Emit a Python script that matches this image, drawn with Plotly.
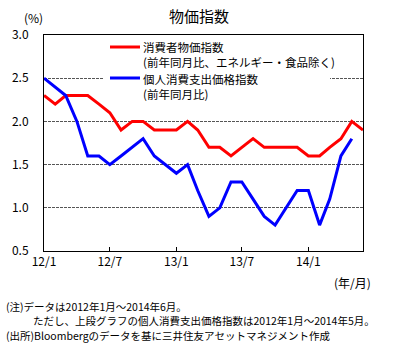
import pandas as pd
import plotly.graph_objects as go

# ---- data ----
months = pd.date_range("2012-01-01", "2014-06-01", freq="MS")
core_cpi = [2.3, 2.2, 2.3, 2.3, 2.3, 2.2, 2.1, 1.9, 2.0, 2.0,
            1.9, 1.9, 1.9, 2.0, 1.9, 1.7, 1.7, 1.6, 1.7, 1.8,
            1.7, 1.7, 1.7, 1.7, 1.6, 1.6, 1.7, 1.8, 2.0, 1.9]
pce = [2.5, 2.4, 2.3, 2.0, 1.6, 1.6, 1.5, 1.6, 1.7, 1.8,
       1.6, 1.5, 1.4, 1.5, 1.2, 0.9, 1.0, 1.3, 1.3, 1.1,
       0.9, 0.8, 1.0, 1.2, 1.2, 0.8, 1.1, 1.6, 1.8]
tick_dates = ["2012-01-01", "2012-07-01", "2013-01-01", "2013-07-01", "2014-01-01"]
tick_text = ["12/1", "12/7", "13/1", "13/7", "14/1"]
y_ticks = [0.5, 1.0, 1.5, 2.0, 2.5, 3.0]

name_cpi = ["消費者物価指数", "(前年同月比、エネルギー・食品除く)"]
name_pce = ["個人消費支出価格指数", "(前年同月比)"]
title = "物価指数"
notes = ["(注)データは2012年1月～2014年6月。",
         "ただし、上段グラフの個人消費支出価格指数は2012年1月～2014年5月。",
         "(出所)Bloombergのデータを基に三井住友アセットマネジメント作成"]

# ---- layout geometry (pixels) ----
W, H = 402, 348
L, R, T, B = 44, 363, 35, 251
FONT = "Noto Sans CJK JP, Noto Sans, sans-serif"

def px(x):
    return (x - L) / (R - L)

def py(y):
    return (B - y) / (B - T)

fig = go.Figure()
fig.add_trace(go.Scatter(x=months[:len(core_cpi)], y=core_cpi, mode="lines",
                         line=dict(color="#FF0000", width=3), showlegend=False,
                         name=name_cpi[0]))
fig.add_trace(go.Scatter(x=months[:len(pce)], y=pce, mode="lines",
                         line=dict(color="#0000FF", width=3), showlegend=False,
                         name=name_pce[0]))

shapes = [
    dict(type="rect", xref="paper", yref="paper", x0=px(103), x1=px(330),
         y0=py(99), y1=py(40), fillcolor="white", line=dict(width=0), layer="above"),
    dict(type="line", xref="paper", yref="paper", x0=px(110), x1=px(140),
         y0=py(47), y1=py(47), line=dict(color="#FF0000", width=3), layer="above"),
    dict(type="line", xref="paper", yref="paper", x0=px(110), x1=px(140),
         y0=py(78), y1=py(78), line=dict(color="#0000FF", width=3), layer="above"),
]

def ann(text, x, y, size=12, xanchor="left"):
    return dict(text=text, xref="paper", yref="paper", x=px(x), y=py(y),
                xanchor=xanchor, yanchor="middle", align="left", showarrow=False,
                font=dict(size=size, color="black", family=FONT))

annotations = [
    ann(title, 199, 15, size=15, xanchor="center"),
    ann("(%)", 33, 18, size=12, xanchor="center"),
    ann("<br>".join(name_cpi), 141, 55, size=11.5),
    ann("<br>".join(name_pce), 141, 86, size=11.5),
    ann("(年/月)", 373, 282, size=12, xanchor="right"),
    ann(notes[0], 4, 306, size=10.5),
    ann(notes[1], 31, 320.5, size=10.5),
    ann(notes[2], 4, 335, size=10.5),
]

fig.update_layout(
    width=W, height=H,
    margin=dict(l=L, r=W - R, t=T, b=H - B),
    paper_bgcolor="white", plot_bgcolor="white",
    font=dict(family=FONT, size=12, color="black"),
    shapes=shapes, annotations=annotations,
    showlegend=False,
)
fig.update_xaxes(
    range=[months[0], months[-1]],
    tickvals=tick_dates, ticktext=tick_text,
    showgrid=False, showline=True, linecolor="black", linewidth=1, mirror=True,
    ticks="inside", ticklen=4, tickcolor="black",
    tickfont=dict(size=12, family=FONT),
    zeroline=False,
)
fig.update_yaxes(
    range=[0.5, 3.0], tickvals=y_ticks, tickformat=".1f",
    showgrid=True, gridcolor="#555555", griddash="3px,1px", gridwidth=1,
    showline=True, linecolor="black", linewidth=1, mirror=True,
    ticks="", ticklabelstandoff=12,
    tickfont=dict(size=12, family=FONT),
    zeroline=False,
)

fig.write_html("out.html")
